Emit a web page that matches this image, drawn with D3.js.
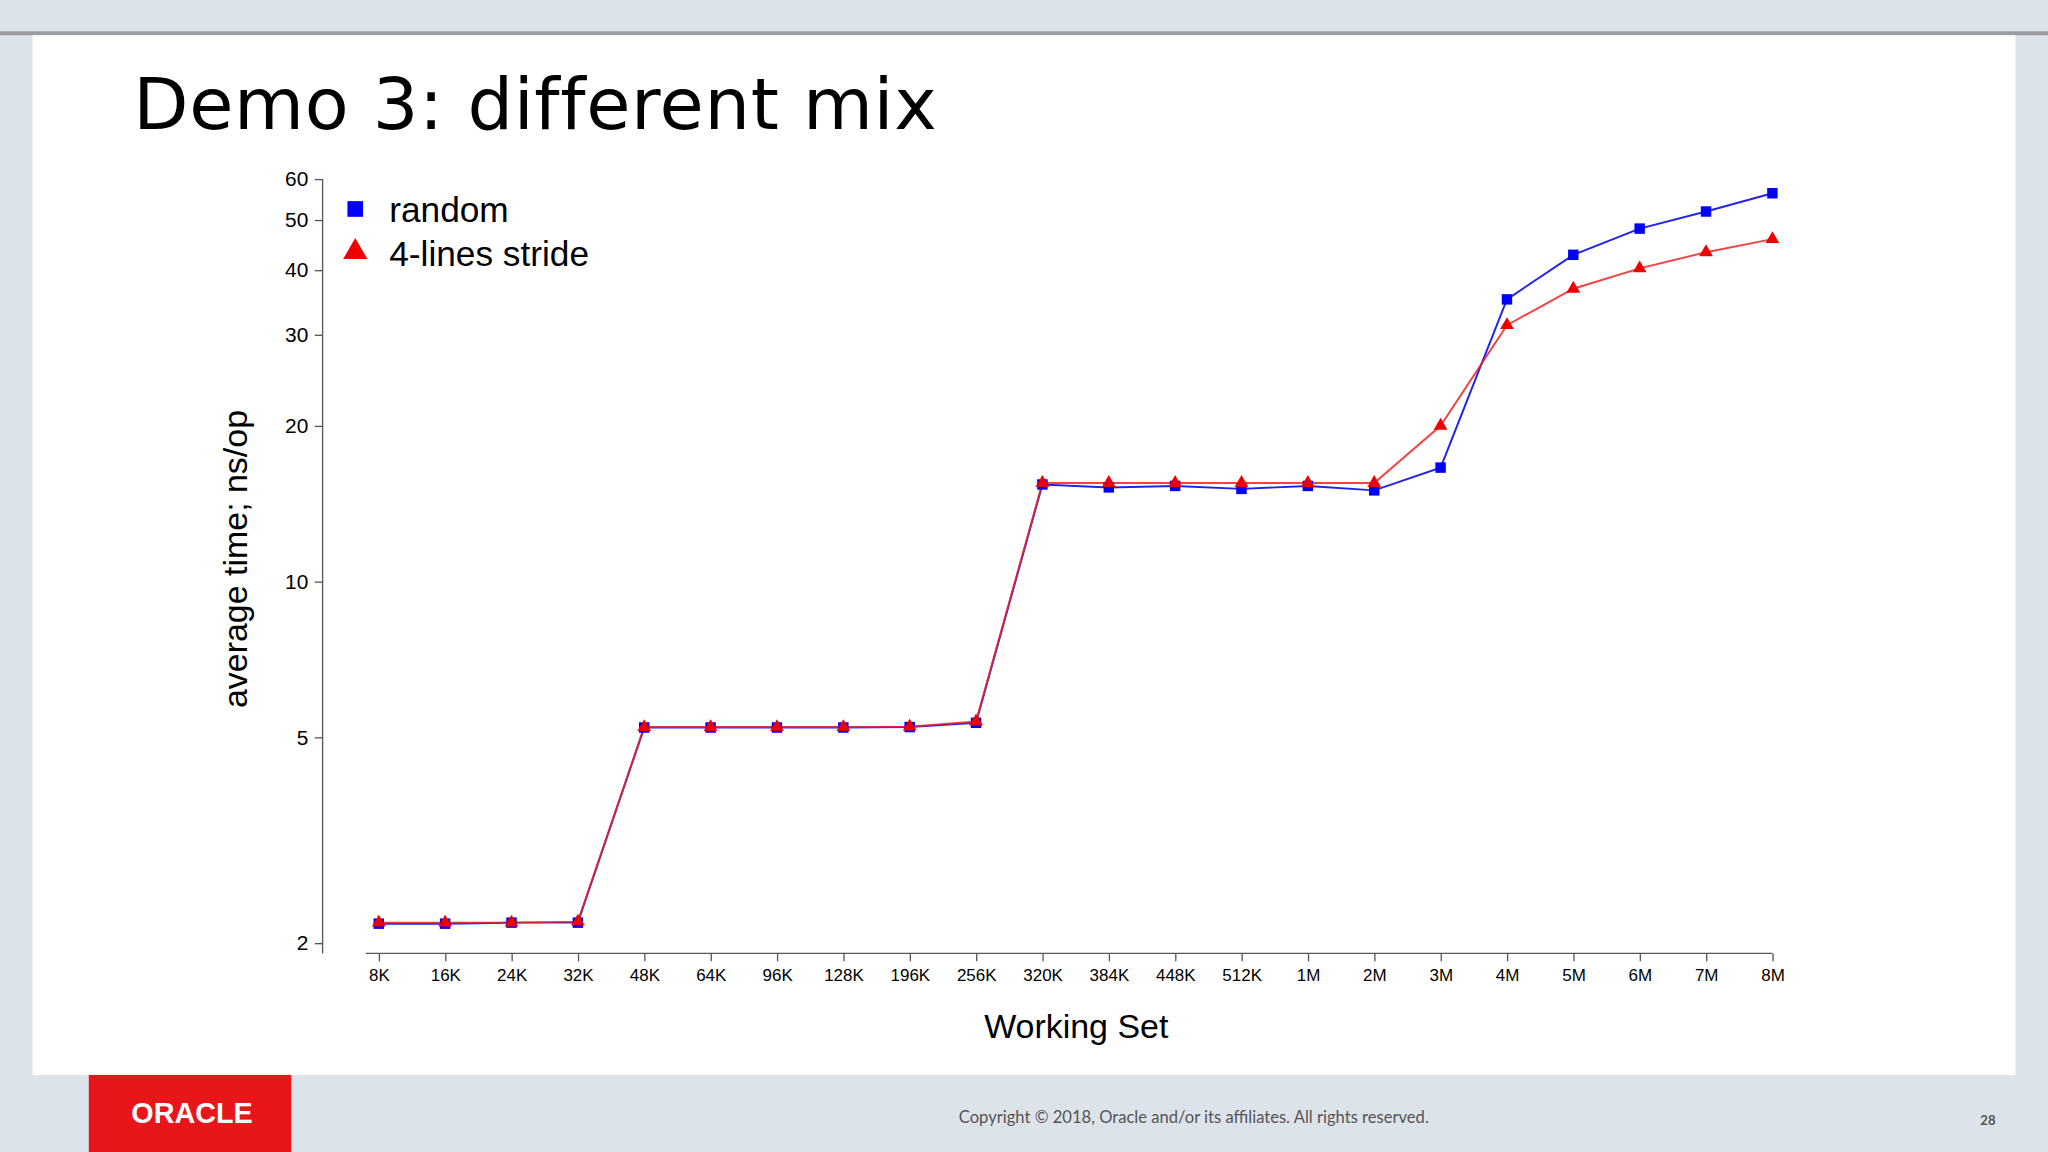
<!DOCTYPE html>
<html><head><meta charset="utf-8">
<script src="https://cdn.jsdelivr.net/npm/d3@7"></script>
<style>body{margin:0;background:#dde3ea;overflow:hidden}</style>
</head><body>
<script>
// data
var categories = ["8K","16K","24K","32K","48K","64K","96K","128K","196K","256K","320K","384K","448K","512K","1M","2M","3M","4M","5M","6M","7M","8M"];
var randomVals = [2.18,2.18,2.19,2.19,5.22,5.22,5.22,5.22,5.23,5.33,15.4,15.2,15.3,15.1,15.3,15.0,16.6,35.1,42.8,48.1,51.9,56.3];
var strideVals = [2.19,2.19,2.19,2.2,5.23,5.23,5.23,5.23,5.24,5.36,15.5,15.5,15.5,15.5,15.5,15.5,20.0,31.3,36.8,40.3,43.3,45.9];
var yTicks = [2,5,10,20,30,40,50,60];

var W = 1568, H = 882;
var svg = d3.select("body").append("svg")
    .attr("width", 2048).attr("height", 1152)
    .attr("viewBox", "0 0 " + W + " " + H);

svg.append("rect").attr("width", W).attr("height", H).attr("fill", "#dde3ea");
svg.append("rect").attr("y", 24).attr("width", W).attr("height", 3).attr("fill", "#9a9ea3");
svg.append("rect").attr("x", 25).attr("y", 27).attr("width", 1518).attr("height", 796).attr("fill", "#fff");

svg.append("text").attr("x", 102).attr("y", 99)
    .style("font-family", "DejaVu Sans").style("font-size", "55px").style("letter-spacing", "0.5px")
    .text("Demo 3: different mix");

// footer
svg.append("rect").attr("x", 68).attr("y", 823).attr("width", 155).attr("height", 59).attr("fill", "#e8151b");
svg.append("text").attr("x", 147).attr("y", 860).attr("text-anchor", "middle").attr("fill", "#fff")
    .style("font-family", "Liberation Sans").style("font-size", "22px").style("font-weight", "bold")
    .text("ORACLE");
svg.append("text").attr("x", 914).attr("y", 860).attr("text-anchor", "middle").attr("fill", "#555")
    .style("font-family", "Lato").style("font-size", "12.7px")
    .text("Copyright © 2018, Oracle and/or its affiliates. All rights reserved.");
svg.append("text").attr("x", 1522).attr("y", 861).attr("text-anchor", "middle").attr("fill", "#555")
    .style("font-family", "Lato").style("font-size", "10px").style("font-weight", "bold").text("28");

var x = d3.scalePoint().domain(categories).range([290, 1357]);
var y = d3.scaleLog().domain([2, 60]).range([722, 137]);

var xAxis = svg.append("g").attr("transform", "translate(0,730)")
    .call(d3.axisBottom(x).tickSizeOuter(0).tickSize(6).tickPadding(6));
xAxis.select(".domain").attr("d", "M280,0H1357");
xAxis.selectAll("text").style("font-family", "Liberation Sans").style("font-size", "13px");

var yAxis = svg.append("g").attr("transform", "translate(247,0)")
    .call(d3.axisLeft(y).tickValues(yTicks).tickFormat(d3.format("d")).tickSizeOuter(0).tickSize(6).tickPadding(5));
yAxis.select(".domain").attr("d", "M0,137V730");
yAxis.selectAll("text").style("font-family", "Liberation Sans").style("font-size", "16px");
svg.selectAll(".domain, .tick line").attr("stroke", "#555");

svg.append("text").attr("x", 824).attr("y", 795).attr("text-anchor", "middle")
    .style("font-family", "Liberation Sans").style("font-size", "26px").text("Working Set");
svg.append("text").attr("transform", "translate(189,428) rotate(-90)").attr("text-anchor", "middle")
    .style("font-family", "Liberation Sans").style("font-size", "26px").text("average time; ns/op");

var line = d3.line().x(function(d, i) { return x(categories[i]); }).y(function(d) { return y(d); });

svg.append("path").datum(randomVals).attr("d", line).attr("fill", "none").attr("stroke", "#2222ee").attr("stroke-width", 1.5);
svg.append("path").datum(strideVals).attr("d", line).attr("fill", "none").attr("stroke", "#ee2222").attr("stroke-width", 1.5).attr("opacity", 0.85);

svg.selectAll(".sq").data(randomVals).enter().append("rect")
    .attr("x", function(d, i) { return x(categories[i]) - 4; })
    .attr("y", function(d) { return y(d) - 4; })
    .attr("width", 8).attr("height", 8).attr("fill", "#0000ff");

var tri = d3.symbol().type(d3.symbolTriangle).size(48);
svg.selectAll(".tri").data(strideVals).enter().append("path")
    .attr("d", tri)
    .attr("transform", function(d, i) { return "translate(" + x(categories[i]) + "," + y(d) + ")"; })
    .attr("fill", "#ee0000");

// legend
svg.append("rect").attr("x", 266).attr("y", 154).attr("width", 12).attr("height", 12).attr("fill", "#0000ff");
svg.append("path").attr("d", d3.symbol().type(d3.symbolTriangle).size(150)).attr("transform", "translate(272,193)").attr("fill", "#ee0000");
svg.append("text").attr("x", 298).attr("y", 170).style("font-family", "Liberation Sans").style("font-size", "27px").text("random");
svg.append("text").attr("x", 298).attr("y", 204).style("font-family", "Liberation Sans").style("font-size", "27px").text("4-lines stride");
</script>
</body></html>
